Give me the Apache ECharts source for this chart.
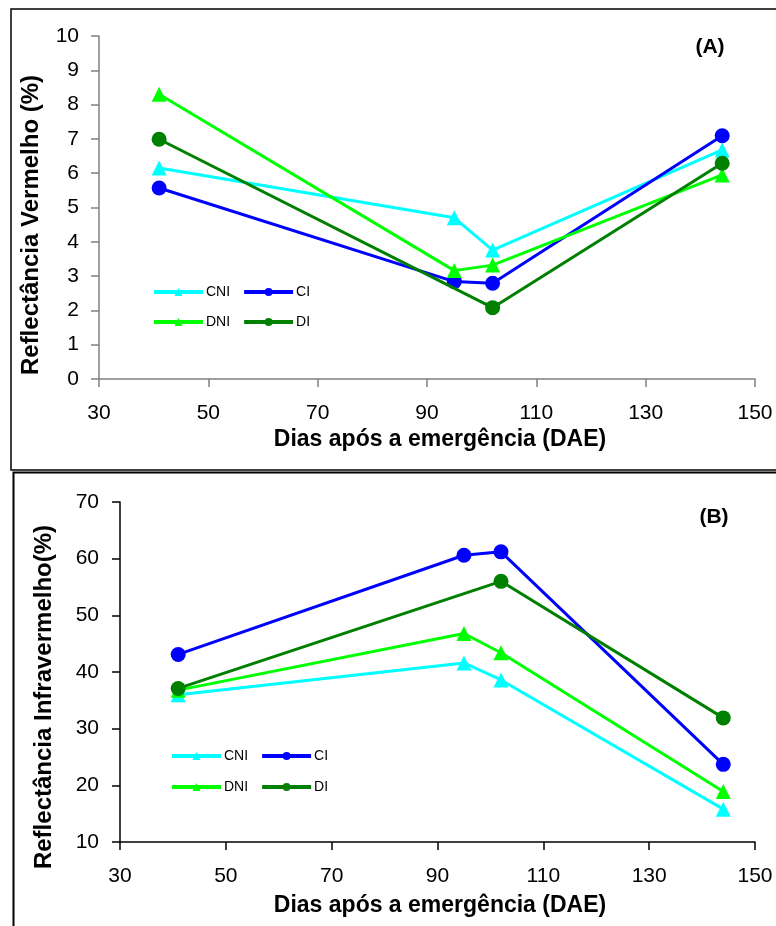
<!DOCTYPE html>
<html>
<head>
<meta charset="utf-8">
<script src="https://cdn.jsdelivr.net/npm/echarts@6/dist/echarts.min.js"></script>
<style>
html, body { margin: 0; padding: 0; background: #fff; }
#chart { width: 776px; height: 926px; }
</style>
</head>
<body>
<div id="chart"></div>
<script>
// dias após a emergência (DAE)
let dae = [41, 95, 102, 144];
let xTicks = [30, 50, 70, 90, 110, 130, 150];

// (A) Reflectância Vermelho (%)
let vermCNI = [6.15, 4.7, 3.76, 6.68];
let vermCI = [5.57, 2.84, 2.79, 7.09];
let vermDNI = [8.3, 3.16, 3.32, 5.95];
let vermDI = [6.99, null, 2.08, 6.29];

// (B) Reflectância Infravermelho (%)
let infraCNI = [36.0, 41.6, 38.6, 15.8];
let infraCI = [43.1, 60.6, 61.2, 23.7];
let infraDNI = [36.8, 46.8, 43.4, 18.9];
let infraDI = [37.1, null, 56.0, 31.9];

let names = ['CNI', 'CI', 'DNI', 'DI'];
let colors = ['#00FFFF', '#0000FF', '#00FF00', '#008000'];
let symbols = ['triangle', 'circle', 'triangle', 'circle'];

let myChart = echarts.init(document.getElementById('chart'));
let font = 'Liberation Sans, Arial, sans-serif';

function pairs(vals) {
    let out = [];
    for (let i = 0; i < dae.length; i++) {
        if (vals[i] !== null) out.push([dae[i], vals[i]]);
    }
    return out;
}

let seriesData = [];
let panels = [[vermCNI, vermCI, vermDNI, vermDI], [infraCNI, infraCI, infraDNI, infraDI]];
panels.forEach(function (set, p) {
    set.forEach(function (vals, i) {
        seriesData.push({
            name: names[i],
            type: 'line',
            xAxisIndex: p,
            yAxisIndex: p,
            data: pairs(vals),
            symbol: symbols[i],
            symbolSize: 15,
            lineStyle: { color: colors[i], width: 3 },
            itemStyle: { color: colors[i] },
            z: 2 + i,
            animation: false
        });
    });
});

function xAxisOf(p, axisColor) {
    return {
        type: 'value', gridIndex: p, min: 30, max: 150, interval: 20,
        axisLine: { lineStyle: { color: axisColor, width: 1.5 } },
        axisTick: { length: 8, lineStyle: { color: axisColor, width: 1.5 } },
        axisLabel: { color: '#000', fontSize: 21, fontFamily: font, margin: 24 },
        splitLine: { show: false }
    };
}

function legendRow(items, left, top) {
    return {
        data: items, left: left, top: top, orient: 'horizontal', padding: 0,
        itemWidth: 49, itemHeight: 10, itemGap: 12,
        lineStyle: { width: 4 },
        textStyle: { fontSize: 14, fontFamily: font, color: '#000', padding: [0, 0, 0, -2] },
        selectedMode: false
    };
}

let option = {
    animation: false,
    grid: [
        { left: 99, right: 21, top: 36, bottom: 547 },
        { left: 120, right: 21, top: 502, bottom: 84 }
    ],
    xAxis: [xAxisOf(0, '#808080'), xAxisOf(1, '#000')],
    yAxis: [
        {
            type: 'value', gridIndex: 0, min: 0, max: 10, interval: 1,
            axisLine: { show: true, lineStyle: { color: '#808080', width: 1.5 } },
            axisTick: { show: true, length: 8, lineStyle: { color: '#808080', width: 1.5 } },
            axisLabel: { color: '#000', fontSize: 21, fontFamily: font, margin: 20 },
            splitLine: { show: false }
        },
        {
            type: 'value', gridIndex: 1, min: 10, max: 70, interval: 10,
            axisLine: { show: true, lineStyle: { color: '#000', width: 1.5 } },
            axisTick: { show: true, length: 8, lineStyle: { color: '#000', width: 1.5 } },
            axisLabel: { color: '#000', fontSize: 21, fontFamily: font, margin: 21 },
            splitLine: { show: false }
        }
    ],
    legend: [
        legendRow(['CNI', 'CI'], 152, 285),
        legendRow(['DNI', 'DI'], 152, 315),
        legendRow(['CNI', 'CI'], 170, 749),
        legendRow(['DNI', 'DI'], 170, 780)
    ],
    graphic: [
        { type: 'rect', shape: { x: 11, y: 9, width: 780, height: 461 }, style: { fill: 'none', stroke: '#000', lineWidth: 1.5 } },
        { type: 'rect', shape: { x: 13.5, y: 472.5, width: 780, height: 480 }, style: { fill: 'none', stroke: '#000', lineWidth: 2 } },
        { type: 'text', x: 710, y: 47, style: { text: '(A)', font: 'bold 21px ' + font, fill: '#000', textAlign: 'center', textVerticalAlign: 'middle' } },
        { type: 'text', x: 714, y: 517, style: { text: '(B)', font: 'bold 21px ' + font, fill: '#000', textAlign: 'center', textVerticalAlign: 'middle' } },
        { type: 'text', x: 440, y: 440, style: { text: 'Dias após a emergência (DAE)', font: 'bold 23px ' + font, fill: '#000', textAlign: 'center', textVerticalAlign: 'middle' } },
        { type: 'text', x: 440, y: 906, style: { text: 'Dias após a emergência (DAE)', font: 'bold 23px ' + font, fill: '#000', textAlign: 'center', textVerticalAlign: 'middle' } },
        { type: 'text', x: 31, y: 225, rotation: Math.PI / 2, style: { text: 'Reflectância Vermelho (%)', font: 'bold 24px ' + font, fill: '#000', textAlign: 'center', textVerticalAlign: 'middle' } },
        { type: 'text', x: 44, y: 697, rotation: Math.PI / 2, style: { text: 'Reflectância Infravermelho(%)', font: 'bold 24px ' + font, fill: '#000', textAlign: 'center', textVerticalAlign: 'middle' } }
    ],
    series: seriesData
};
myChart.setOption(option);

window.addEventListener('resize', function () {
    myChart.resize();
});
</script>
</body>
</html>
